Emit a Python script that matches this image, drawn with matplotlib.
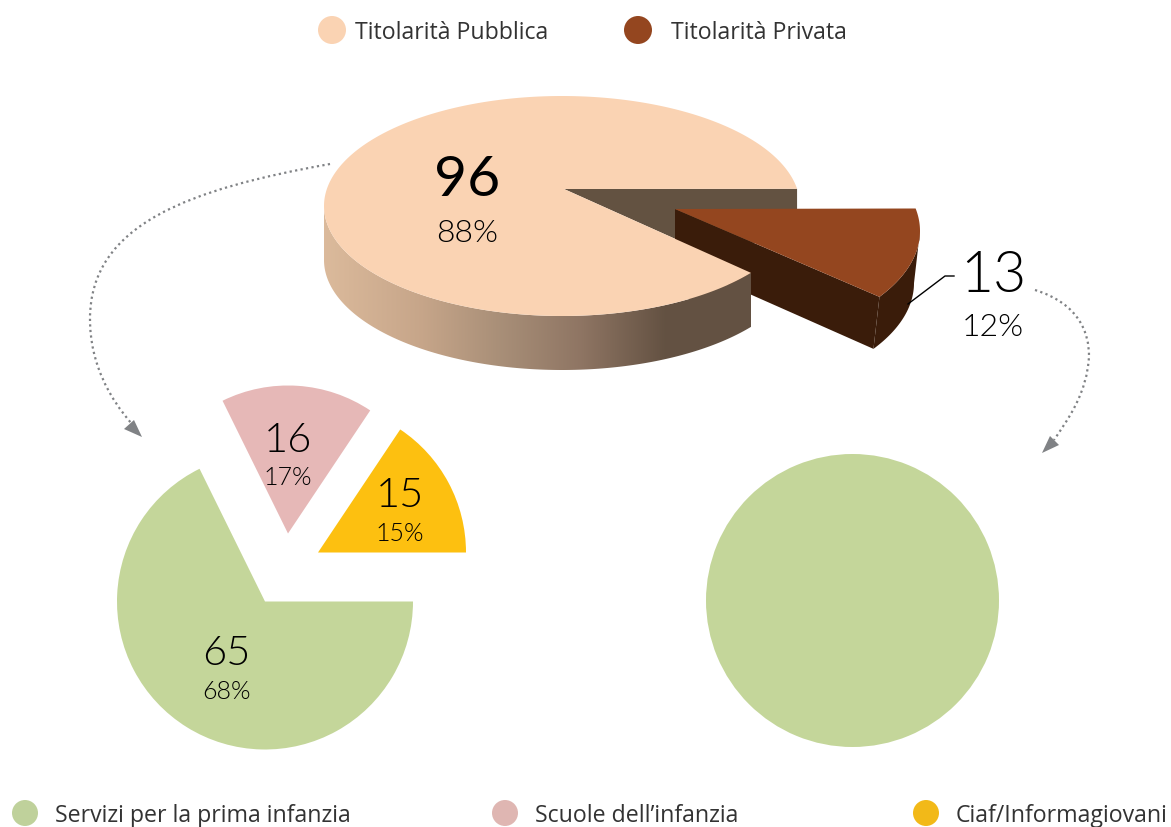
import numpy as np
import matplotlib
matplotlib.use("Agg")
import matplotlib.pyplot as plt
from matplotlib.path import Path
from matplotlib.patches import PathPatch, Polygon, Circle

W, H = 1171, 828

# data
ownership_labels = ["Titolarità Pubblica", "Titolarità Privata"]
ownership_values = [96, 13]
ownership_pct = ["88%", "12%"]
public_labels = ["Servizi per la prima infanzia", "Scuole dell\u2019infanzia", "Ciaf/Informagiovani"]
public_values = [65, 15, 16]   # counter clockwise order on the pie: green, yellow, pink
public_pct = ["68%", "15%", "17%"]
private_values = [13]

PEACH = "#FAD3B3"
BROWN = "#94461F"
DARK = "#3A1C0A"
WALL = "#635241"
GREEN = "#C4D69A"
PINK = "#E6B8B7"
YELLOW = "#FDC010"
GREY = "#808285"

LEG_FONT = "Open Sans"
NUM_FONT = "Lato"


def Y(py):
    return H - py


fig = plt.figure(figsize=(W / 100, H / 100), dpi=100)
ax = fig.add_axes([0, 0, 1, 1])


# flat pies, drawn first because ax.pie resets the limits
wedges, _ = ax.pie(public_values, startangle=116.25, radius=148, center=(265, Y(602.5)),
                   colors=[GREEN, YELLOW, PINK], frame=False, wedgeprops={"linewidth": 0})
wedges[1].set_center((318, Y(553.5)))
wedges[2].set_center((288, Y(534.5)))
ax.pie(private_values, startangle=90, radius=146.5, center=(852.5, Y(601.5)),
       colors=[GREEN], frame=False, wedgeprops={"linewidth": 0})

ax.set_xlim(0, W)
ax.set_ylim(0, H)
ax.set_aspect("auto")
ax.axis("off")

# 3d pie, the angles come from the values (+ a small perspective correction)
RX, RY, DEPTH = 238, 110, 54
total = sum(ownership_values)
cut_top = 9
cut_low = cut_top - ownership_values[1] / total * 360 - 3.5
PUB_C = np.array([562, 207])
PUB_APEX = np.array([564, 190])
PRI_C = np.array([682, 232])
PRI_APEX = np.array([675, 210])
PRI_RY = 118
PRI_DROP = np.array([-6, -52])


def arc(c, a0, a1, n=200, ry=RY):
    t = np.radians(np.linspace(a0, a1, n))
    return np.column_stack([c[0] + RX * np.cos(t), Y(c[1]) + ry * np.sin(t)])


def to_up(p):
    return np.array([p[0], Y(p[1])])


def down(pts, d=DEPTH):
    return pts - np.array([0, d])


# inner wall of the public slice
a = arc(PUB_C, cut_top, cut_low)
inner = np.vstack([to_up(PUB_APEX), a[0], a[0] - [0, DEPTH], to_up(PUB_APEX) - [0, DEPTH], a[-1] - [0, DEPTH], a[-1]])
ax.add_patch(Polygon(inner, fc=WALL, ec="none", zorder=3))

# private slice, the side only goes up to the rightmost point of the arc
pr = arc(PRI_C, cut_top + 2, cut_low + 3.5, n=200, ry=PRI_RY)[::-1]
apex = to_up(PRI_APEX)
k = np.argmax(pr[:, 0])
side = np.vstack([pr[:k + 1], (pr[:k + 1] + PRI_DROP)[::-1]])
ax.add_patch(Polygon(side, fc=DARK, ec="none", zorder=4))
front = np.vstack([apex, pr[0], pr[0] + PRI_DROP, apex + [0, PRI_DROP[1]]])
ax.add_patch(Polygon(front, fc=DARK, ec="none", zorder=4))
ax.add_patch(Polygon(np.vstack([apex, pr]), fc=BROWN, ec="none", zorder=5))

# outer wall of the public slice with horizontal gradient
wall_top = arc(PUB_C, 180, 360 + cut_low)
wall = np.vstack([wall_top, down(wall_top)[::-1]])
wall_patch = Polygon(wall, fc="none", ec="none", zorder=6)
ax.add_patch(wall_patch)
stops_x = [324, 420, 500, 580, 665, 760]
stops_c = [(0.86, 0.73, 0.61), (0.78, 0.65, 0.54), (0.66, 0.56, 0.47), (0.56, 0.46, 0.39), (0.39, 0.32, 0.26), (0.39, 0.32, 0.26)]
xs = np.arange(324, 760)
grad = np.column_stack([np.interp(xs, stops_x, [c[i] for c in stops_c]) for i in range(3)])[None, :, :]
im = ax.imshow(grad, extent=[324, 760, Y(380), Y(190)], aspect="auto", zorder=6, interpolation="bilinear")
im.set_clip_path(wall_patch)
ax.set_xlim(0, W)
ax.set_ylim(0, H)

top = arc(PUB_C, cut_top, 360 + cut_low, 400)
ax.add_patch(Polygon(np.vstack([to_up(PUB_APEX), top]), fc=PEACH, ec="none", zorder=7))


# dotted arrows
def dotted(verts, tri):
    codes = [Path.MOVETO] + [Path.CURVE4] * (len(verts) - 1)
    v = [(x, Y(y)) for x, y in verts]
    ax.add_patch(PathPatch(Path(v, codes), fc="none", ec=GREY, lw=1.6, ls=(0, (1, 1.5)), zorder=2))
    ax.add_patch(Polygon([(x, Y(y)) for x, y in tri], fc=GREY, ec="none", zorder=2))


dotted([(330, 165), (190, 190), (90, 225), (90, 320), (90, 365), (110, 400), (132, 425)],
       [(142, 438), (124, 430), (134, 421)])
dotted([(1035, 291), (1080, 305), (1089, 335), (1089, 357), (1087, 395), (1068, 420), (1054, 441)],
       [(1042, 454), (1050, 437), (1059, 446)])

# leader line of the private slice
ax.plot([908, 945, 954], [Y(305), Y(277), Y(277)], color="black", lw=1, zorder=8)


# value labels
def num(x, y, s, size, weight=300):
    ax.text(x, Y(y), s, fontsize=size, family=NUM_FONT, fontweight=weight, color="black",
            ha="center", va="center", zorder=9)


num(467, 180, str(ownership_values[0]), 41, "normal")
num(467, 234, ownership_pct[0], 23)
num(993, 276, str(ownership_values[1]), 41)
num(993, 328, ownership_pct[1], 23)
num(288, 440, str(public_values[2]), 30)
num(288, 478, public_pct[2], 18)
num(400, 496, str(public_values[1]), 30)
num(400, 534, public_pct[1], 18)
num(226, 654, str(public_values[0]), 30)
num(226, 692, public_pct[0], 18)

# legends drawn by hand, markers are circles in pixel space
for x, y, r, c in [(332, 31, 14, PEACH), (638, 31, 14, BROWN), (25, 814, 13, "#BFD19B"), (505, 814, 13, "#DFB6B2"), (926, 814, 13, "#F2B918")]:
    ax.add_patch(Circle((x, Y(y)), r, fc=c, ec="none"))
for x, y, s in [(355, 33, ownership_labels[0]), (671, 33, ownership_labels[1]),
                (55, 816, public_labels[0]), (535, 816, public_labels[1]), (956, 816, public_labels[2])]:
    ax.text(x, Y(y), s, fontsize=16.7, family=LEG_FONT, color="#333333", ha="left", va="center")

fig.savefig("out.png", dpi=100)
